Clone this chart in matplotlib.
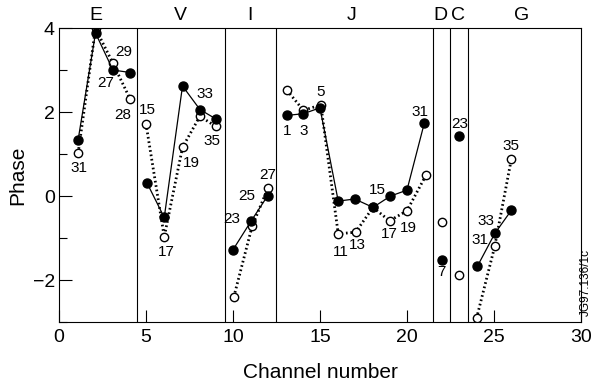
import matplotlib
matplotlib.use("Agg")
from matplotlib import pyplot as plt
from matplotlib.ticker import MultipleLocator

plt.rcParams['font.family'] = ['Liberation Sans', 'DejaVu Sans']

# channel groups: x of filled/solid series and open/dotted series, with phases
groups = ['E', 'V', 'I', 'J', 'D', 'C', 'G']
chan = {
    'E': [1.1, 2.1, 3.1, 4.1],
    'V': [5.05, 6.05, 7.1, 8.1, 9.0],
    'I': [10.0, 11.05, 12.0],
    'J': [13.1, 14.05, 15.0, 16.05, 17.0, 18.05, 19.05, 20.0, 21.0],
    'D': [22.0],
    'C': [23.0],
    'G': [24.05, 25.05, 26.0],
}
chan_open = {
    'E': [1.1, 2.1, 3.1, 4.1],
    'V': [5.0, 6.05, 7.1, 8.1, 9.0],
    'I': [10.05, 11.1, 12.0],
    'J': [13.1, 14.05, 15.05, 16.05, 17.05, 18.05, 19.0, 20.0, 21.1],
    'D': [22.0],
    'C': [23.0],
    'G': [24.0, 25.05, 26.0],
}
phase_filled = {
    'E': [1.34, 3.88, 3.0, 2.94],
    'V': [0.32, -0.51, 2.62, 2.06, 1.84],
    'I': [-1.28, -0.59, 0.01],
    'J': [1.92, 1.96, 2.1, -0.12, -0.07, -0.27, 0.0, 0.14, 1.74],
    'D': [-1.52],
    'C': [1.42],
    'G': [-1.67, -0.89, -0.34],
}
phase_open = {
    'E': [1.02, 3.99, 3.16, 2.3],
    'V': [1.72, -0.97, 1.16, 1.9, 1.66],
    'I': [-2.4, -0.72, 0.18],
    'J': [2.52, 2.04, 2.17, -0.9, -0.86, -0.27, -0.59, -0.35, 0.5],
    'D': [-0.62],
    'C': [-1.87],
    'G': [-2.91, -1.19, 0.88],
}

dividers = [4.5, 9.55, 12.5, 21.5, 22.5, 23.5]
group_label_x = [2.1, 7.0, 11.0, 16.8, 21.9, 22.95, 26.6]

# point annotations (text, x, y)
annotations = [
    ('31', 1.15, 0.66), ('29', 3.7, 3.42), ('27', 2.68, 2.68), ('28', 3.66, 1.94),
    ('15', 5.06, 2.04), ('17', 6.15, -1.33), ('19', 7.6, 0.78), ('33', 8.37, 2.44), ('35', 8.8, 1.32),
    ('23', 9.95, -0.55), ('25', 10.8, 0.0), ('27', 12.0, 0.49),
    ('1', 13.1, 1.56), ('3', 14.05, 1.56), ('5', 15.05, 2.47), ('31', 20.75, 2.01),
    ('11', 16.2, -1.32), ('13', 17.15, -1.16), ('15', 18.3, 0.14), ('17', 19.0, -0.91), ('19', 20.1, -0.77),
    ('7', 22.0, -1.8), ('23', 23.05, 1.72),
    ('31', 24.2, -1.05), ('33', 24.55, -0.59), ('35', 26.0, 1.18),
]

fig = plt.figure(figsize=(5.94, 3.89), dpi=100)
ax = fig.add_axes([0.0993, 0.172, 0.8787, 0.756])

for g in groups:
    ax.plot(chan_open[g], phase_open[g], color='black', lw=2.0, ls=(0, (0.6, 1.0)),
            marker='o', ms=6, mfc='white', mec='black', mew=1.0, zorder=2)
    ax.plot(chan[g], phase_filled[g], color='black', lw=0.9, ls='-',
            marker='o', ms=6.5, mfc='black', mec='black', zorder=3)

for d in dividers:
    ax.axvline(d, color='black', lw=0.8, zorder=1)

for name, gx in zip(groups, group_label_x):
    ax.text(gx, 4.1, name, ha='center', va='bottom', fontsize=14)

for txt, tx, ty in annotations:
    ax.text(tx, ty, txt, ha='center', va='center', fontsize=11)

ax.set_xlim(0, 30)
ax.set_ylim(-3, 4)
ax.set_xticks([0, 5, 10, 15, 20, 25, 30])
ax.set_yticks([-2, 0, 2, 4])
ax.set_yticklabels(['\u22122', '0', '2', '4'])
ax.yaxis.set_minor_locator(MultipleLocator(1))
ax.tick_params(axis='both', which='major', direction='in', length=9, width=0.8, labelsize=14)
ax.tick_params(axis='y', which='minor', direction='in', length=6, width=0.8)
ax.tick_params(axis='x', pad=5)
ax.tick_params(axis='y', pad=3)

ax.set_xlabel('Channel number', fontsize=15, labelpad=12)
ax.set_ylabel('Phase', fontsize=15, labelpad=4)

fig.text(0.986, 0.275, 'JG97.136/1c', rotation=90, fontsize=8.5,
         ha='center', va='center')

fig.savefig('out.png', dpi=100)
